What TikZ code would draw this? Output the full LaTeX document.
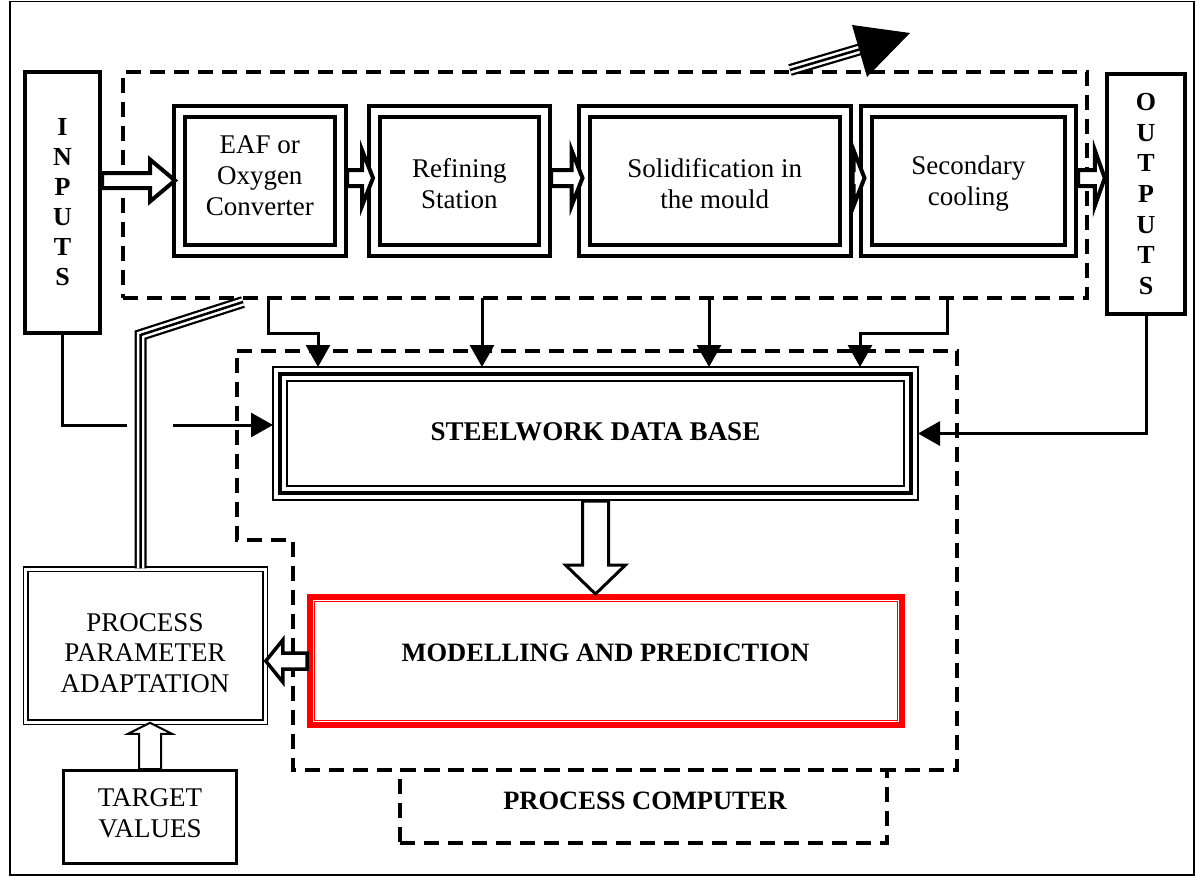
\documentclass[tikz,border=0pt]{standalone}
\usepackage{fontspec}
\setmainfont{Liberation Serif}
\usetikzlibrary{arrows.meta,calc}

% block (hollow) arrow: [style]{start}{tip}{shaft half width}{head half width}{head length}
\newcommand\blockarrow[6][]{%
  \coordinate (bah) at ($(#3)!#6!(#2)$);
  \draw[blockarr,#1] ($(#2)!#4!90:(#3)$) -- ($(bah)!#4!90:(#3)$) -- ($(bah)!#5!90:(#3)$) -- (#3)
    -- ($(bah)!#5!-90:(#3)$) -- ($(bah)!#4!-90:(#3)$) -- ($(#2)!#4!-90:(#3)$) -- cycle;}

\tikzset{
  txt/.style={font=\fontsize{27}{31}\selectfont, align=center},
  btxt/.style={font=\bfseries\fontsize{26.5}{30}\selectfont, align=center},
  thickbox/.style={draw, line width=4pt, inner sep=0pt},
  stagebox/.style={draw, line width=4pt, double, double distance=7pt, inner sep=0pt, outer sep=0pt},
  dashbox/.style={draw, line width=3.5pt, dash pattern=on 15pt off 9pt},
  conn/.style={line width=3pt, -{Triangle[length=22pt,width=24pt]}},
  plain/.style={line width=3pt},
  blockarr/.style={draw, fill=white, line width=4pt, line join=miter},
  triple/.style={line width=12pt, line join=miter, draw=black,
    postaction={draw, white, line width=7.5pt, line join=miter},
    postaction={draw, black, line width=2.5pt, line join=miter}},
}

\begin{document}
\begin{tikzpicture}[x=1pt, y=-1pt]
\useasboundingbox (0,0) rectangle (1196,876);
\draw[line width=1.5pt] (10,1.5) rectangle (1194,875);

% dashed process area (top)
\node[dashbox, minimum width=964pt, minimum height=226pt] (stage) at (605,185) {};

% inputs / outputs
\node[thickbox, minimum width=75pt, minimum height=261pt, font=\bfseries\fontsize{26}{30}\selectfont, align=center] (inputs) at (62.5,202.5) {I\\N\\P\\U\\T\\S};
\node[thickbox, minimum width=78.5pt, minimum height=239.5pt, font=\bfseries\fontsize{26}{30.7}\selectfont, align=center] (outputs) at (1146,194) {O\\U\\T\\P\\U\\T\\S};

% process stages
\node[stagebox, minimum width=160.5pt, minimum height=139pt] (eaf) at (259.75,180.5) {};
\node[stagebox, minimum width=169.5pt, minimum height=139pt] (ref) at (459.25,180.5) {};
\node[stagebox, minimum width=261.5pt, minimum height=139pt] (sol) at (714.75,180.5) {};
\node[stagebox, minimum width=204.5pt, minimum height=139pt] (sec) at (968.25,180.5) {};
\node[txt] (eaft) at (259.75,176) {EAF or\\Oxygen\\Converter};
\node[txt] (reft) at (459.25,184) {Refining\\Station};
\node[txt] (solt) at (714.75,184) {Solidification in\\the mould};
\node[txt] (sect) at (968.25,184) {Secondary\\cooling};

% process computer area
\draw[dashbox] (237,351) -- (957,351) -- (957,770) -- (293,770) -- (293,540) -- (237,540) -- cycle;
\node[dashbox, minimum width=487pt, minimum height=73pt] (pc) at (643.5,806.5) {};
\node[btxt] (pct) at (645,801) {PROCESS COMPUTER};

% data base (triple border)
\node[draw, line width=2pt, inner sep=0pt, outer sep=0pt, minimum width=645pt, minimum height=133pt] (db) at (595.5,433.5) {};
\draw[line width=4pt] ([shift={(7,7)}]db.north west) rectangle ([shift={(-7,-7)}]db.south east);
\draw[line width=2pt] ([shift={(14,14)}]db.north west) rectangle ([shift={(-14,-14)}]db.south east);
\node[btxt, font=\bfseries\fontsize{27}{30}\selectfont] (dbt) at (595.5,432) {STEELWORK DATA BASE};

% modelling and prediction (red)
\node[draw=red, line width=6pt, inner sep=0pt, minimum width=592pt, minimum height=128pt] (model) at (606,661) {};
\draw[red, line width=1.5pt] ([shift={(7.5,7.5)}]model.north west) rectangle ([shift={(-7.5,-7.5)}]model.south east);
\node[btxt] (modelt) at (605.5,653) {MODELLING AND PREDICTION};

% process parameter adaptation
\node[draw, line width=1.5pt, double, double distance=3pt, inner sep=0pt, minimum width=239.5pt, minimum height=153pt] (ppa) at (145.25,645.5) {};
\node[txt, font=\fontsize{27}{30.5}\selectfont] (ppat) at (145,653) {PROCESS\\PARAMETER\\ADAPTATION};

% target values
\node[draw, line width=3pt, inner sep=0pt, minimum width=173pt, minimum height=93pt] (target) at (150,817) {};
\node[txt] (targett) at (150,813) {TARGET\\VALUES};

% hollow arrows along the line
\coordinate (a1) at (inputs.east |- eaf.west);
\coordinate (b1) at ([xshift=-4.5pt]eaf.west);
\blockarrow{a1}{b1}{7.5pt}{21pt}{25pt}
\path ([shift={(7,-2.5)}]eaf.east) coordinate (a2) ([shift={(-1.5,-2.5)}]ref.west) coordinate (b2);
\blockarrow{a2}{b2}{8pt}{28pt}{11pt}
\path ([shift={(7,-2.5)}]ref.east) coordinate (a3) ([shift={(-1.5,-2.5)}]sol.west) coordinate (b3);
\blockarrow{a3}{b3}{8pt}{28pt}{11pt}
\path ([shift={(7,-2.5)}]sol.east) coordinate (a4) ([shift={(-1.5,-2.5)}]sec.west) coordinate (b4);
\blockarrow{a4}{b4}{8pt}{28pt}{11pt}
\path ([shift={(7.5,-2.5)}]sec.east) coordinate (a5) (outputs.west |- a5) coordinate (b5);
\blockarrow{a5}{b5}{8pt}{28pt}{10pt}

% data base -> modelling
\coordinate (a6) at ([yshift=-1pt]db.south);
\coordinate (b6) at (db.south |- model.north);
\blockarrow[line width=3pt]{a6}{b6}{13pt}{30pt}{29pt}
% modelling -> adaptation
\coordinate (a7) at (model.west);
\coordinate (b7) at (ppa.east |- model.west);
\blockarrow[line width=3.5pt]{a7}{b7}{8pt}{21pt}{17pt}
% target -> adaptation
\coordinate (a8) at (target.north);
\coordinate (b8) at (target.north |- ppa.south);
\blockarrow[line width=2pt]{a8}{b8}{11pt}{22pt}{11pt}

% arrows into data base
\coordinate (s1) at (268,298); \coordinate (t1) at (318,333);
\coordinate (s2) at (482,298);
\coordinate (s3) at (709,298);
\coordinate (s4) at (947,298); \coordinate (t4) at (860,333);
\draw[conn] (s1) |- (t1) -- (t1 |- db.north);
\draw[conn] (s2) -- (s2 |- db.north);
\draw[conn] (s3) -- (s3 |- db.north);
\draw[conn] (s4) |- (t4) -- (t4 |- db.north);

% inputs -> data base (interrupted)
\coordinate (g1) at (127,425); \coordinate (g2) at (173,425);
\draw[plain] (inputs.south) |- (g1);
\draw[conn] (g2) -- (g2 -| db.west);
% outputs -> data base
\draw[conn] (outputs.south) |- (db.east);

% feedback triple line from adaptation to the process
\coordinate (f0) at ([xshift=-4.75pt]ppa.north);
\coordinate (f1) at (140.5,335);
\coordinate (f2) at (243,302);
\draw[triple] (f0) -- (f1) -- (f2);

% direction arrow (top right)
\coordinate (d0) at (790,70);
\coordinate (d1) at (861,49);
\draw[triple] (d0) -- (d1);
\fill (852,25) -- (910,33) -- (867,77) -- cycle;
\end{tikzpicture}
\end{document}
